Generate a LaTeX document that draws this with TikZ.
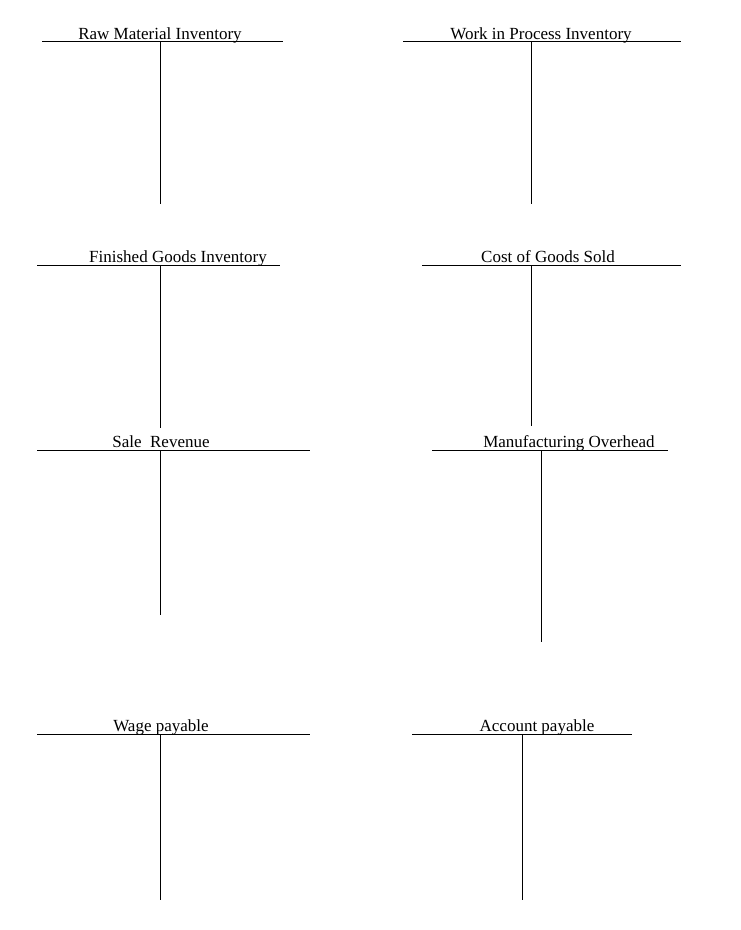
\documentclass[tikz,border=0pt]{standalone}
\usepackage{fontspec}
\setmainfont{Liberation Serif}
\begin{document}
\begin{tikzpicture}[x=1pt,y=-1pt,
  lbl/.style={anchor=base,inner sep=0pt,font=\fontsize{17}{20}\selectfont},
  tline/.style={line width=0.8pt}]
\useasboundingbox (0,0) rectangle (740,930);
% Raw Material
\node[lbl] (t1) at (160,39) {Raw Material Inventory};
\draw[tline] (42,41) -- (283,41); \draw[tline] (160,41) -- (160,204);
% WIP
\node[lbl] (t2) at (541,39) {Work in Process Inventory};
\draw[tline] (403,41) -- (681,41); \draw[tline] (531,41) -- (531,204);
% Finished Goods
\node[lbl] (t3) at (178,262) {Finished Goods Inventory};
\draw[tline] (37,265) -- (280,265); \draw[tline] (160,265) -- (160,428);
% COGS
\node[lbl] (t4) at (548,262) {Cost of Goods Sold};
\draw[tline] (422,265) -- (681,265); \draw[tline] (531,265) -- (531,426);
% Sale Revenue
\node[lbl] (t5) at (161,447) {Sale\ \ Revenue};
\draw[tline] (37,450) -- (310,450); \draw[tline] (160,450) -- (160,615);
% Manufacturing Overhead
\node[lbl] (t6) at (569,447) {Manufacturing Overhead};
\draw[tline] (432,450) -- (668,450); \draw[tline] (541,450) -- (541,642);
% Wage payable
\node[lbl] (t7) at (161,731) {Wage payable};
\draw[tline] (37,734) -- (310,734); \draw[tline] (160,734) -- (160,900);
% Account payable
\node[lbl] (t8) at (537,731) {Account payable};
\draw[tline] (412,734) -- (632,734); \draw[tline] (522,734) -- (522,900);
\end{tikzpicture}
\end{document}
